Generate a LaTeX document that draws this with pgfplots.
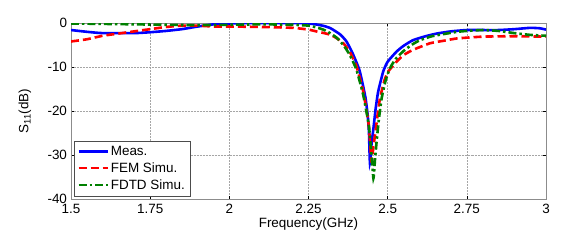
\documentclass[border=0pt]{standalone}
\usepackage{fontspec}
\setmainfont{Liberation Sans}
\usepackage{pgfplots}
\pgfplotsset{compat=1.18}
\definecolor{mblue}{RGB}{0,0,255}
\definecolor{mred}{RGB}{255,0,0}
\definecolor{mgreen}{RGB}{0,128,0}
\begin{document}
\begin{tikzpicture}
\begin{axis}[
  scale only axis,
  width=475bp, height=176bp,
  xmin=1.5, xmax=3, ymin=-40, ymax=0,
  font=\fontsize{13.5}{15}\selectfont,
  xtick={1.5,1.75,2,2.25,2.5,2.75,3},
  xticklabels={1.5,1.75,2,2.25,2.5,2.75,3},
  ytick={-40,-30,-20,-10,0},
  yticklabels={-40,-30,-20,-10,0},
  xticklabel style={yshift=-1.5bp},
  yticklabel style={xshift=-0.5bp},
  tick align=inside,
  major tick length=3bp,
  tick style={black, line width=0.5bp},
  axis line style={draw=black!45, line width=1bp},
  grid=major,
  major grid style={gray!70, line width=0.5bp, densely dotted},
  xlabel={Frequency(GHz)},
  ylabel={S\textsubscript{11}(dB)},
  xlabel style={at={(axis description cs:0.5,-25/176)}, anchor=center},
  ylabel style={at={(axis description cs:-46/475,0.5)}, anchor=center},
  legend style={at={(axis description cs:3/475,3/176)}, anchor=south west,
    draw=black!70, line width=0.5bp, font=\fontsize{13.5}{15}\selectfont,
    row sep=1.8bp, inner xsep=3bp, inner ysep=3bp},
  legend cell align=left,
  legend image code/.code={\draw[#1] (0bp,0bp) -- (29bp,0bp);},
]
\addplot[mblue, line width=2.6bp, smooth, tension=0.3] coordinates {
(1.5,-1.6)(1.55,-2.0)(1.6,-2.3)(1.7,-2.3)(1.75,-2.1)(1.8,-1.8)(1.85,-1.4)
(1.9,-0.8)(1.95,-0.3)(2.0,-0.1)(2.1,0)(2.2,0)(2.25,-0.1)(2.28,-0.4)(2.3,-0.7)
(2.32,-1.2)(2.35,-2.6)(2.37,-4.2)(2.39,-7)(2.41,-10.5)(2.42,-13.5)(2.43,-17)
(2.437,-21)(2.441,-25)(2.444,-31.8)(2.449,-27.5)(2.455,-24)(2.462,-19.5)(2.47,-15.6)
(2.486,-11)(2.5,-8.8)(2.528,-6.5)(2.55,-5.2)(2.58,-3.9)(2.62,-3.0)(2.655,-2.4)
(2.7,-1.9)(2.75,-1.6)(2.8,-1.6)(2.85,-1.6)(2.9,-1.4)(2.95,-1.1)(2.98,-1.2)(3.0,-1.5)
};
\addlegendentry{Meas.}
\addplot[mred, line width=2.6bp, dash pattern=on 8bp off 4bp, smooth, tension=0.3] coordinates {
(1.5,-4.2)(1.55,-3.7)(1.6,-2.9)(1.65,-2.4)(1.7,-1.9)(1.75,-1.4)(1.8,-0.9)
(1.85,-0.6)(1.9,-0.6)(1.95,-0.8)(2.0,-0.8)(2.1,-0.9)(2.2,-1.1)(2.25,-1.5)
(2.28,-2.0)(2.3,-2.3)(2.32,-2.7)(2.34,-3.5)(2.36,-4.6)(2.38,-6.5)(2.4,-9.5)
(2.41,-12)(2.423,-15.6)(2.44,-23)(2.449,-31.5)(2.455,-28)(2.46,-25.5)(2.468,-21)
(2.476,-17)(2.49,-13)(2.502,-11)(2.528,-8.8)(2.55,-7.3)(2.58,-6.1)(2.634,-4.6)
(2.68,-4.0)(2.72,-3.5)(2.8,-3.1)(2.9,-3.0)(3.0,-3.1)
};
\addlegendentry{FEM Simu.}
\addplot[mgreen, line width=2.6bp, dash pattern=on 8bp off 3bp on 2.5bp off 3bp, smooth, tension=0.3] coordinates {
(1.5,-0.1)(1.6,-0.2)(1.7,-0.3)(1.8,-0.4)(1.9,-0.5)(2.0,-0.4)(2.1,-0.3)(2.2,-0.4)
(2.25,-0.6)(2.28,-1.1)(2.3,-1.6)(2.318,-2.3)(2.34,-3.4)(2.36,-5)(2.38,-7.2)
(2.4,-10.3)(2.41,-12.8)(2.423,-16.4)(2.44,-23)(2.448,-29)(2.455,-35.3)(2.46,-31)
(2.465,-27)(2.472,-22)(2.481,-17.1)(2.493,-13.2)(2.507,-10.3)(2.525,-8.2)(2.548,-6.5)
(2.575,-5.0)(2.602,-3.9)(2.64,-3.0)(2.686,-2.4)(2.72,-2.0)(2.75,-1.8)(2.8,-1.6)
(2.85,-1.8)(2.9,-2.3)(2.95,-2.7)(3.0,-2.9)
};
\addlegendentry{FDTD Simu.}
\end{axis}
\pgfresetboundingbox
\path (-71bp,-52bp) rectangle (511bp,199bp);
\end{tikzpicture}
\end{document}
